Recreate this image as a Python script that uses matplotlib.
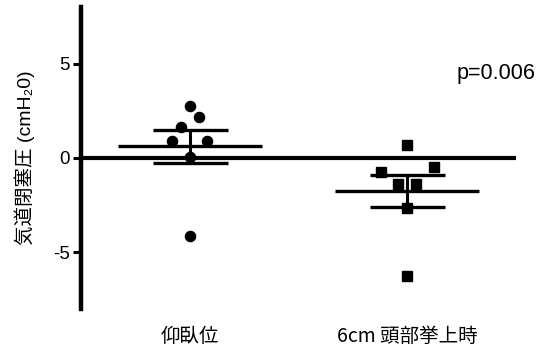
import numpy as np
import matplotlib.pyplot as plt

# 気道閉塞圧 (cmH2O) の読み取り値
grupos = ["仰臥位", "6cm 頭部挙上時"]
supino = np.array([2.77, 2.16, 1.65, 0.89, 0.89, 0.05, -4.12])
elevado = np.array([0.68, -0.47, -0.74, -1.39, -1.39, -2.65, -6.23])
valores_ytick = [-5, 0, 5]
texto_p = "p=0.006"

FAM_LAT = ["Liberation Sans", "Noto Sans CJK JP", "DejaVu Sans"]
FAM_JP = ["Noto Sans CJK JP", "DejaVu Sans"]


def filas_x(ax, xc, ys, alto=1.3, origen=-0.1, paso_px=17.6):
    """Agrupa los valores en filas y los reparte en horizontal (tipo Prism)."""
    t = ax.transData
    ppx = t.transform((1, 0))[0] - t.transform((0, 0))[0]
    fila = np.floor((ys - origen) / alto)
    xs = np.full(len(ys), float(xc))
    for f in np.unique(fila):
        idx = np.where(fila == f)[0]
        idx = idx[np.argsort(ys[idx], kind="stable")]
        n = len(idx)
        if n % 2:
            huecos = [0.0]
            for k in range(1, n):
                huecos += [-k, k]
        else:
            huecos = []
            for k in range(n):
                huecos += [-(k + 0.5), k + 0.5]
        for i, h in zip(idx, huecos):
            xs[i] = xc + h * paso_px / ppx
    return xs


fig = plt.figure(figsize=(5.44, 3.49), dpi=100)
ax = fig.add_axes([81 / 544, 1 - 309 / 349, (516 - 81) / 544, 302 / 349])
ax.set_xlim(0.5, 2.5)
ax.set_ylim(-8, 8)

ax.axhline(0, color="black", lw=3, zorder=1)

for xc, datos, marca in [(1, supino, "o"), (2, elevado, "s")]:
    xs = filas_x(ax, xc, datos)
    ax.plot(xs, datos, ls="none", marker=marca, ms=7.3, color="black", zorder=3)
    media = datos.mean()
    sem = datos.std(ddof=1) / np.sqrt(len(datos))
    ax.hlines(media, xc - 0.33, xc + 0.33, color="black", lw=2.4, zorder=2)
    ax.errorbar(xc, media, yerr=sem, fmt="none", ecolor="black",
                elinewidth=2.2, capsize=27, capthick=2.4, zorder=2)

ax.text(2.59, 4.5, texto_p, ha="right", va="center", fontsize=15.5,
        family=FAM_LAT, clip_on=False)

ax.spines[["top", "right", "bottom"]].set_visible(False)
ax.spines["left"].set_linewidth(3.2)

ax.set_yticks(valores_ytick)
ax.set_yticklabels([str(v) for v in valores_ytick], family=FAM_LAT, fontsize=13.5)
ax.tick_params(axis="y", direction="out", length=6, width=2.2, pad=2)

ax.set_xticks([1, 2])
ax.set_xticklabels(grupos, family=FAM_JP, fontsize=14)
ax.tick_params(axis="x", length=0, pad=12)

ax.set_ylabel("気道閉塞圧 (cmH₂0)", family=FAM_LAT, fontsize=14)
ax.yaxis.set_label_coords(-0.105, 0.5)

fig.savefig("out.png", dpi=100, facecolor="white")
